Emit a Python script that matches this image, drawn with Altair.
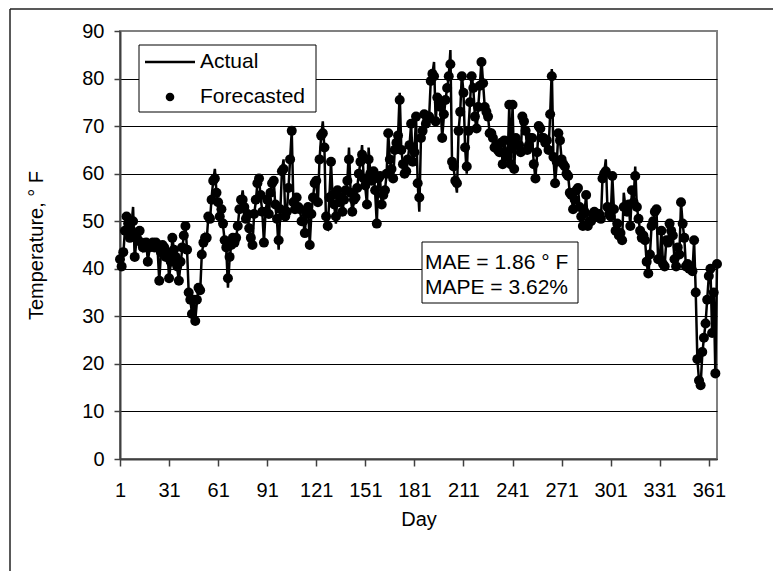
import altair as alt
import pandas as pd

# ---------------- data ----------------
actual = [
    42.5, 40.5, 43, 48, 51, 50, 46, 49, 53, 42,
    46, 47, 48, 45, 44, 45, 46, 41.5, 44, 45,
    45, 44, 46, 44, 37.5, 43, 45.5, 44, 42, 44,
    38, 41, 46.5, 44, 42, 40, 37.5, 41, 44, 47,
    49, 44, 35, 33.5, 30.5, 34, 29, 33, 36, 35,
    43, 45.5, 47, 46, 51, 50, 55, 58.5, 61, 56,
    54, 51, 53, 49, 46, 44, 36, 42, 45, 47,
    45, 46.5, 49, 52.5, 54, 56.5, 53, 50, 52, 48,
    46.5, 45, 51.5, 54, 58, 59, 55, 52, 45.5, 52,
    54.5, 51, 56, 58, 58.5, 53, 50, 44, 52, 60.5,
    63, 51, 52, 57, 63, 69, 54, 52, 55, 53,
    52, 50.5, 50, 47.5, 52, 53, 45, 51.5, 55, 58,
    58, 54, 63, 68, 71, 65, 49, 48.5, 55, 62.5,
    55, 53.5, 49.5, 56.5, 54, 55, 52, 54.5, 56, 58.5,
    65.5, 56, 52, 54, 55, 57, 60, 62.5, 66, 59,
    57, 53.5, 65.5, 60, 58, 60.5, 56, 49.5, 59, 59,
    53.5, 55, 56.5, 60, 68.5, 63, 61, 59, 65, 66,
    68, 77, 65, 62, 60, 60, 63, 66, 70.5, 62.5,
    64.5, 72, 58, 52, 67.5, 69, 72.5, 70, 71.5, 72,
    79.5, 81, 83.5, 71, 76, 75, 74, 67.5, 72, 75.5,
    78, 80.5, 86, 62.5, 61, 58.5, 56, 69, 73, 81,
    77, 65.5, 60, 69, 75, 81, 78, 72, 69, 74,
    78.5, 84, 79, 74, 73, 72, 68.5, 69, 67.5, 65.5,
    66, 65, 64.5, 66, 62, 67, 64.5, 63, 74.5, 62,
    74.5, 61, 68, 66, 66, 64, 72, 71, 69, 65,
    66, 68, 67.5, 62, 59, 64, 70, 69.5, 68, 67.5,
    66, 67, 65, 72.5, 82, 63.5, 58, 62, 68.5, 67,
    63, 62, 61.5, 60, 59.5, 56, 55.5, 52.5, 54.5, 56,
    57, 53, 51, 49, 52, 55.5, 49, 50, 50, 51.5,
    52, 51, 51, 51.5, 50, 59, 60, 63, 53, 52,
    51, 59.5, 52.5, 48, 49.5, 47, 47.5, 46, 56, 53,
    52, 53.5, 49, 56.5, 54, 61.5, 53, 50.5, 48, 46.5,
    47, 46, 41.5, 38.5, 43, 49, 50, 52, 52.5, 42,
    42, 48, 41, 40.5, 46, 45, 49.5, 48, 47, 42,
    40.5, 44.5, 43, 54, 49.5, 46.5, 40.5, 41, 40, 40.5,
    39.5, 46, 35, 21, 16.5, 15.5, 22, 25.5, 28.5, 33.5,
    38.5, 40, 26.5, 35, 18, 41,
]

forecasted = [
    42, 40.5, 43.5, 48, 51, 49.5, 46.5, 48, 50, 42.5,
    46.5, 46, 48, 45.5, 44.5, 44.5, 45.5, 41.5, 44.5, 45,
    45.5, 44.5, 45.5, 44.5, 37.5, 43.5, 45, 44.5, 42.5, 43.5,
    38, 41.5, 46.5, 44, 42.5, 40.5, 37.5, 41.5, 44.5, 47,
    49, 44, 35, 33.5, 30.5, 33.5, 29, 33.5, 36, 35.5,
    43, 45.5, 46.5, 46.5, 51, 50.5, 54.5, 58.5, 59, 56,
    54, 51, 52.5, 49.5, 46, 44.5, 38, 42.5, 45, 46.5,
    45.5, 46.5, 49, 52.5, 54.5, 54.5, 53, 50.5, 51.5, 48.5,
    46.5, 45, 51.5, 54.5, 58, 59, 55.5, 52, 45.5, 52,
    54.5, 51.5, 56, 58, 58.5, 53.5, 50.5, 46, 52.5, 60.5,
    61, 51, 52, 57, 63, 69, 54, 52.5, 55, 53,
    52.5, 50, 50, 47.5, 51.5, 53, 45, 51.5, 55, 58,
    58.5, 54, 63, 68, 68.5, 65.5, 51, 49, 55, 62.5,
    55.5, 53.5, 51, 56.5, 54, 55, 52, 54.5, 56.5, 58.5,
    63, 56, 52, 54.5, 55, 57, 60, 62.5, 64, 59,
    57.5, 53.5, 63, 60, 58.5, 60.5, 56.5, 49.5, 59, 59.5,
    53.5, 55.5, 56.5, 60, 68.5, 63, 61, 59, 65, 66.5,
    68, 75.5, 65, 62, 60, 60.5, 63, 66, 70.5, 62.5,
    64.5, 72, 58, 55, 67.5, 69, 72.5, 70.5, 71.5, 72,
    79.5, 81, 80.5, 71, 76, 75, 74, 67.5, 72.5, 75.5,
    78, 80.5, 83, 62.5, 61.5, 58.5, 58, 69, 73, 80.5,
    77, 65.5, 61.5, 69, 75, 80.5, 78, 72, 69.5, 74,
    78.5, 83.5, 79, 74, 73, 72, 68.5, 68.5, 67.5, 65.5,
    66, 65, 64.5, 66.5, 62, 67, 64.5, 63.5, 74.5, 62,
    74.5, 61, 67.5, 66, 66, 64.5, 72, 71, 69, 65,
    66, 67.5, 67.5, 62, 59, 64.5, 70, 69.5, 67.5, 67.5,
    66.5, 67, 65, 72.5, 80.5, 63.5, 58, 62.5, 68.5, 67,
    63, 62, 61.5, 60, 59.5, 56, 55.5, 52.5, 54.5, 56.5,
    57, 53, 51, 49, 52, 55.5, 49, 50, 50, 51.5,
    52, 51, 51.5, 51.5, 50.5, 59, 60, 60.5, 53, 51.5,
    51, 59.5, 52.5, 48, 49.5, 47, 47.5, 46, 53, 53,
    52, 53.5, 49, 56.5, 54, 59.5, 53, 50.5, 48, 46.5,
    47, 46, 41.5, 39, 43, 49, 50, 52, 52.5, 42,
    42, 48, 41, 40.5, 46, 45.5, 49.5, 48, 47, 42,
    40.5, 44.5, 43, 54, 49.5, 46.5, 40.5, 41, 40, 40.5,
    39.5, 46, 35, 21, 16.5, 15.5, 22.5, 25.5, 28.5, 33.5,
    38.5, 40, 26.5, 35, 18, 41,
]

days = list(range(1, len(actual) + 1))
x_ticks = [1, 31, 61, 91, 121, 151, 181, 211, 241, 271, 301, 331, 361]
y_ticks = [0, 10, 20, 30, 40, 50, 60, 70, 80, 90]
legend_labels = ["Actual", "Forecasted"]
stats_lines = ["MAE = 1.86 ° F", "MAPE = 3.62%"]

df = pd.DataFrame({"Day": days, "Actual": actual, "Forecasted": forecasted})

# ---------------- layout ----------------
FONT = "Liberation Sans"
W, H = 597, 428

x_scale = alt.Scale(domain=[1, len(days)], nice=False, zero=False)
y_scale = alt.Scale(domain=[0, 90], nice=False, zero=True)

x_axis = alt.Axis(
    values=x_ticks, title="Day", grid=False,
    tickSize=7, tickColor="#404040", tickWidth=1.5,
    domainColor="#404040", domainWidth=2,
    labelPadding=14, labelFontSize=20, labelFont=FONT, labelColor="black",
    labelFlush=False, labelOverlap=False,
    titleFontSize=20, titleFont=FONT, titleColor="black", titleFontWeight="normal",
    titleY=60, titleBaseline="middle",
)
y_axis = alt.Axis(
    values=y_ticks, title="Temperature, ° F",
    grid=True,
    gridColor={"condition": {"test": "datum.value === 90", "value": "#808080"}, "value": "black"},
    gridWidth=1,
    tickSize=6, tickColor="#404040", tickWidth=1.5,
    domainColor="#404040", domainWidth=2,
    labelPadding=10, labelFontSize=20, labelFont=FONT, labelColor="black",
    labelFlush=False, labelOverlap=False,
    titleFontSize=20, titleFont=FONT, titleColor="black", titleFontWeight="normal",
    titleAngle=-90, titleX=-84, titleY=H / 2, titleAlign="center", titleBaseline="middle",
)

base = alt.Chart(df)

line = base.mark_line(color="black", strokeWidth=2.5).encode(
    x=alt.X("Day:Q", scale=x_scale, axis=x_axis),
    y=alt.Y("Actual:Q", scale=y_scale, axis=y_axis),
)

points = base.mark_circle(color="black", size=100, opacity=1).encode(
    x=alt.X("Day:Q", scale=x_scale),
    y=alt.Y("Forecasted:Q", scale=y_scale),
)

one = pd.DataFrame({"k": [0]})

# legend
leg_box = alt.Chart(one).mark_rect(fill="white", stroke="black", strokeWidth=1).encode(
    x=alt.value(19), x2=alt.value(196), y=alt.value(14), y2=alt.value(81)
)
leg_line = alt.Chart(one).mark_rule(color="black", strokeWidth=2.5).encode(
    x=alt.value(25), x2=alt.value(75), y=alt.value(31)
)
leg_dot = alt.Chart(one).mark_circle(color="black", size=75, opacity=1).encode(
    x=alt.value(50), y=alt.value(66)
)
leg_t1 = alt.Chart(one).mark_text(align="left", baseline="middle", fontSize=21, font=FONT, color="black").encode(
    x=alt.value(80), y=alt.value(31), text=alt.value(legend_labels[0])
)
leg_t2 = alt.Chart(one).mark_text(align="left", baseline="middle", fontSize=21, font=FONT, color="black").encode(
    x=alt.value(80), y=alt.value(66), text=alt.value(legend_labels[1])
)

# statistics box
st_box = alt.Chart(one).mark_rect(fill="white", stroke="black", strokeWidth=1).encode(
    x=alt.value(302), x2=alt.value(458), y=alt.value(211), y2=alt.value(272)
)
st_t1 = alt.Chart(one).mark_text(align="left", baseline="middle", fontSize=21, font=FONT, color="black").encode(
    x=alt.value(305), y=alt.value(232), text=alt.value(stats_lines[0])
)
st_t2 = alt.Chart(one).mark_text(align="left", baseline="middle", fontSize=21, font=FONT, color="black").encode(
    x=alt.value(305), y=alt.value(257), text=alt.value(stats_lines[1])
)

# outer chart-area border (top and left edges visible)
border_left = alt.Chart(one).mark_rule(color="#222222", strokeWidth=1.5).encode(
    x=alt.value(-110), y=alt.value(-22), y2=alt.value(545)
)
border_top = alt.Chart(one).mark_rule(color="#222222", strokeWidth=1.5).encode(
    x=alt.value(-110), x2=alt.value(660), y=alt.value(-22)
)

chart = alt.layer(
    line, points,
    leg_box, leg_line, leg_dot, leg_t1, leg_t2,
    st_box, st_t1, st_t2,
    border_left, border_top,
).properties(
    width=W, height=H,
    autosize=alt.AutoSizeParams(type="none"),
    padding={"left": 120, "top": 31, "right": 56, "bottom": 112},
    background="white",
).configure_view(
    stroke="#808080", strokeWidth=2
)

chart.save("out.html", embed_options={"renderer": "svg", "actions": False})
